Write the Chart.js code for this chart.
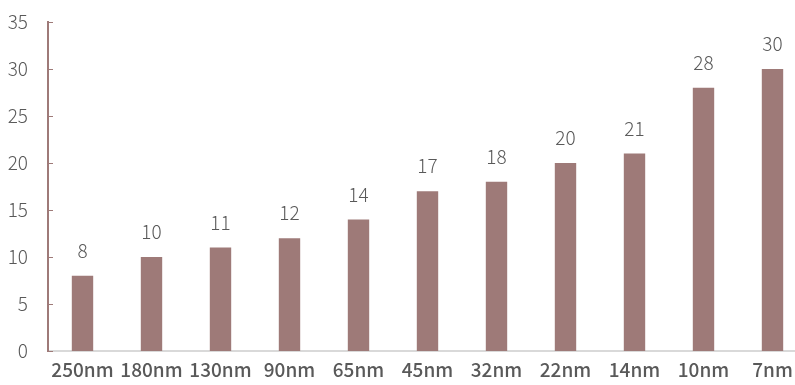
<!DOCTYPE html>
<html>
<head>
<meta charset="utf-8">
<script src="https://cdn.jsdelivr.net/npm/chart.js@4"></script>
<style>
  html, body { margin: 0; padding: 0; background: #fff; overflow: hidden; }
  #wrap { width: 807px; height: 385px; }
</style>
</head>
<body>
<div id="wrap"><canvas id="myChart"></canvas></div>
<script>
const labels = ['250nm', '180nm', '130nm', '90nm', '65nm', '45nm', '32nm', '22nm', '14nm', '10nm', '7nm'];
const values = [8, 10, 11, 12, 14, 17, 18, 20, 21, 28, 30];
const yTicks = [0, 5, 10, 15, 20, 25, 30, 35];

const barColor = '#9e7a78';
const textColor = '#595959';
const fontFamily = '"Noto Sans CJK SC", "Noto Sans", sans-serif';

// value labels over each bar
const barLabels = {
    id: 'barLabels',
    afterDatasetsDraw(chart) {
        const c = chart.ctx;
        const meta = chart.getDatasetMeta(0);
        c.save();
        c.fillStyle = textColor;
        c.font = '300 19px ' + fontFamily;
        c.textAlign = 'center';
        c.textBaseline = 'middle';
        meta.data.forEach((bar, i) => {
            c.fillText(values[i], bar.x, bar.y - 25);
        });
        c.restore();
    }
};

// short ticks pointing into the plot from the y axis
const innerTicks = {
    id: 'innerTicks',
    afterDraw(chart) {
        const c = chart.ctx;
        const y = chart.scales.y;
        c.save();
        c.strokeStyle = barColor;
        c.lineWidth = 1;
        yTicks.forEach(v => {
            const py = Math.round(y.getPixelForValue(v)) + 0.5;
            c.beginPath();
            c.moveTo(y.right, py);
            c.lineTo(y.right + 5, py);
            c.stroke();
        });
        c.restore();
    }
};

const ctx = document.getElementById('myChart').getContext('2d');
const myChart = new Chart(ctx, {
    type: 'bar',
    data: {
        labels: labels,
        datasets: [{
            data: values,
            backgroundColor: barColor,
            barPercentage: 0.31,
            categoryPercentage: 1
        }]
    },
    options: {
        responsive: true,
        maintainAspectRatio: false,
        animation: false,
        layout: { padding: { top: 22, left: 0, right: 0, bottom: 0 } },
        plugins: {
            legend: { display: false },
            tooltip: { enabled: false }
        },
        scales: {
            x: {
                grid: { display: false, drawTicks: false },
                border: { color: '#d9d9d9', width: 2 },
                ticks: {
                    color: textColor,
                    padding: 7,
                    maxRotation: 0,
                    autoSkip: false,
                    font: { family: fontFamily, size: 19, weight: 500 }
                },
                afterFit(scale) { scale.height = 34; }
            },
            y: {
                min: 0,
                max: 35,
                grid: { display: false, drawTicks: false },
                border: { color: barColor, width: 2 },
                afterBuildTicks(scale) { scale.ticks = yTicks.map(v => ({ value: v })); },
                ticks: {
                    color: textColor,
                    padding: 20,
                    font: { family: fontFamily, size: 19, weight: 300 }
                },
                afterFit(scale) {
                    scale.width = 48;
                    scale.paddingTop = 0;
                    scale.paddingBottom = 0;
                }
            }
        }
    },
    plugins: [barLabels, innerTicks]
});
</script>
</body>
</html>
